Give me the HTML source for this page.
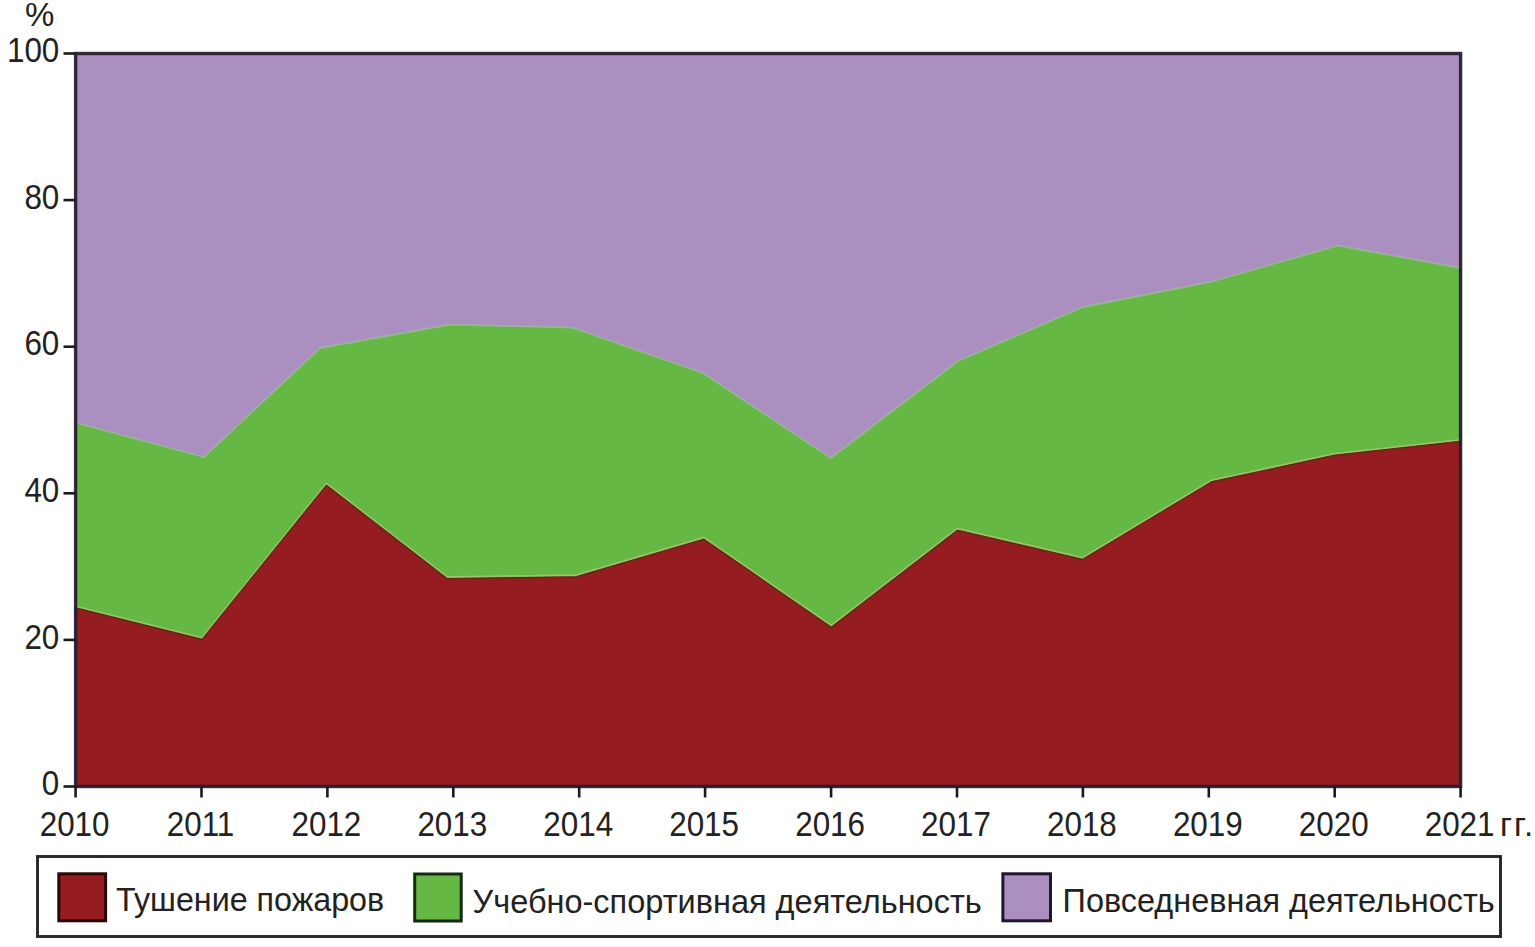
<!DOCTYPE html>
<html><head><meta charset="utf-8">
<style>
html,body{margin:0;padding:0;background:#fff;width:1535px;height:947px;overflow:hidden}
svg{position:absolute;left:0;top:0}
text{font-family:"Liberation Sans", sans-serif;font-size:33px;fill:#222}
text.ax{font-size:34.5px}
.tk{stroke:#1a1a1a;stroke-width:2.6}
</style></head><body>
<svg width="1535" height="947" viewBox="0 0 1535 947">
<rect x="75.6" y="53.5" width="1385.0" height="733.0" fill="#aa8fc0"/>
<polygon points="75.6,422.7 204.0,457.0 320.0,348.0 450.0,324.5 572.0,327.5 703.0,373.0 830.8,458.0 958.0,361.0 1083.0,307.0 1212.0,281.5 1338.0,245.5 1460.6,268.0 1460.6,441.0 1334.0,455.0 1211.5,481.5 1082.5,559.0 957.5,529.8 831.3,626.8 703.8,538.8 576.1,576.4 447.2,578.2 326.4,484.8 202.0,639.0 75.6,607.5" fill="#65b843"/>
<polyline points="75.6,422.7 204.0,457.0 320.0,348.0 450.0,324.5 572.0,327.5 703.0,373.0 830.8,458.0 958.0,361.0 1083.0,307.0 1212.0,281.5 1338.0,245.5 1460.6,268.0" fill="none" stroke="#9db09c" stroke-width="1.8" stroke-linejoin="round"/>
<polygon points="75.6,786.5 75.6,607.5 202.0,639.0 326.4,484.8 447.2,578.2 576.1,576.4 703.8,538.8 831.3,626.8 957.5,529.8 1082.5,559.0 1211.5,481.5 1334.0,455.0 1460.6,441.0 1460.6,786.5" fill="#951c20"/>
<polyline points="75.6,607.5 202.0,639.0 326.4,484.8 447.2,578.2 576.1,576.4 703.8,538.8 831.3,626.8 957.5,529.8 1082.5,559.0 1211.5,481.5 1334.0,455.0 1460.6,441.0" transform="translate(0,-1.3)" fill="none" stroke="#a3c06a" stroke-width="1.6" stroke-linejoin="round"/>
<polyline points="75.6,607.5 202.0,639.0 326.4,484.8 447.2,578.2 576.1,576.4 703.8,538.8 831.3,626.8 957.5,529.8 1082.5,559.0 1211.5,481.5 1334.0,455.0 1460.6,441.0" transform="translate(0,0.6)" fill="none" stroke="#5e2c14" stroke-width="1.5" stroke-linejoin="round"/>
<rect x="75.6" y="53.5" width="1385.0" height="733.0" fill="none" stroke="#231a2a" stroke-opacity="0.92" stroke-width="3.4"/>
<text class="ax" text-anchor="end" transform="translate(59.3,62.1) scale(0.91,1)">100</text>
<line x1="63.5" y1="53.5" x2="75.6" y2="53.5" class="tk"/>
<text class="ax" text-anchor="end" transform="translate(59.3,208.7) scale(0.91,1)">80</text>
<line x1="63.5" y1="200.1" x2="75.6" y2="200.1" class="tk"/>
<text class="ax" text-anchor="end" transform="translate(59.3,355.3) scale(0.91,1)">60</text>
<line x1="63.5" y1="346.7" x2="75.6" y2="346.7" class="tk"/>
<text class="ax" text-anchor="end" transform="translate(59.3,501.9) scale(0.91,1)">40</text>
<line x1="63.5" y1="493.3" x2="75.6" y2="493.3" class="tk"/>
<text class="ax" text-anchor="end" transform="translate(59.3,648.5) scale(0.91,1)">20</text>
<line x1="63.5" y1="639.9" x2="75.6" y2="639.9" class="tk"/>
<text class="ax" text-anchor="end" transform="translate(59.3,795.1) scale(0.91,1)">0</text>
<line x1="63.5" y1="786.5" x2="75.6" y2="786.5" class="tk"/>
<text class="ax" text-anchor="middle" transform="translate(74.6,836.3) scale(0.91,1)">2010</text>
<line x1="75.6" y1="786.5" x2="75.6" y2="797.5" class="tk"/>
<text class="ax" text-anchor="middle" transform="translate(200.5,836.3) scale(0.91,1)">2011</text>
<line x1="201.5" y1="786.5" x2="201.5" y2="797.5" class="tk"/>
<text class="ax" text-anchor="middle" transform="translate(326.4,836.3) scale(0.91,1)">2012</text>
<line x1="327.4" y1="786.5" x2="327.4" y2="797.5" class="tk"/>
<text class="ax" text-anchor="middle" transform="translate(452.3,836.3) scale(0.91,1)">2013</text>
<line x1="453.3" y1="786.5" x2="453.3" y2="797.5" class="tk"/>
<text class="ax" text-anchor="middle" transform="translate(578.2,836.3) scale(0.91,1)">2014</text>
<line x1="579.2" y1="786.5" x2="579.2" y2="797.5" class="tk"/>
<text class="ax" text-anchor="middle" transform="translate(704.1,836.3) scale(0.91,1)">2015</text>
<line x1="705.1" y1="786.5" x2="705.1" y2="797.5" class="tk"/>
<text class="ax" text-anchor="middle" transform="translate(830.1,836.3) scale(0.91,1)">2016</text>
<line x1="831.1" y1="786.5" x2="831.1" y2="797.5" class="tk"/>
<text class="ax" text-anchor="middle" transform="translate(956.0,836.3) scale(0.91,1)">2017</text>
<line x1="957.0" y1="786.5" x2="957.0" y2="797.5" class="tk"/>
<text class="ax" text-anchor="middle" transform="translate(1081.9,836.3) scale(0.91,1)">2018</text>
<line x1="1082.9" y1="786.5" x2="1082.9" y2="797.5" class="tk"/>
<text class="ax" text-anchor="middle" transform="translate(1207.8,836.3) scale(0.91,1)">2019</text>
<line x1="1208.8" y1="786.5" x2="1208.8" y2="797.5" class="tk"/>
<text class="ax" text-anchor="middle" transform="translate(1333.7,836.3) scale(0.91,1)">2020</text>
<line x1="1334.7" y1="786.5" x2="1334.7" y2="797.5" class="tk"/>
<text class="ax" text-anchor="middle" transform="translate(1459.6,836.3) scale(0.91,1)">2021</text>
<line x1="1460.6" y1="786.5" x2="1460.6" y2="797.5" class="tk"/>
<text transform="translate(25,26)">%</text>
<text transform="translate(1500,836.3)" letter-spacing="2">гг.</text>
<rect x="37.5" y="856.5" width="1463" height="80" fill="#fff" stroke="#262626" stroke-width="2.9"/>
<rect x="58.8" y="873.8" width="46.8" height="47" fill="#951c20" stroke="#2a0808" stroke-width="3"/>
<text transform="translate(116,911) scale(0.978,1)">Тушение пожаров</text>
<rect x="414.7" y="874" width="46.5" height="47" fill="#65b843" stroke="#132a10" stroke-width="3"/>
<text transform="translate(472.6,913) scale(0.985,1)">Учебно-спортивная деятельность</text>
<rect x="1002.9" y="873.8" width="47.6" height="47" fill="#aa8fc0" stroke="#1f1630" stroke-width="3"/>
<text transform="translate(1062.6,911.5) scale(0.983,1)">Повседневная деятельность</text>
</svg>
</body></html>
